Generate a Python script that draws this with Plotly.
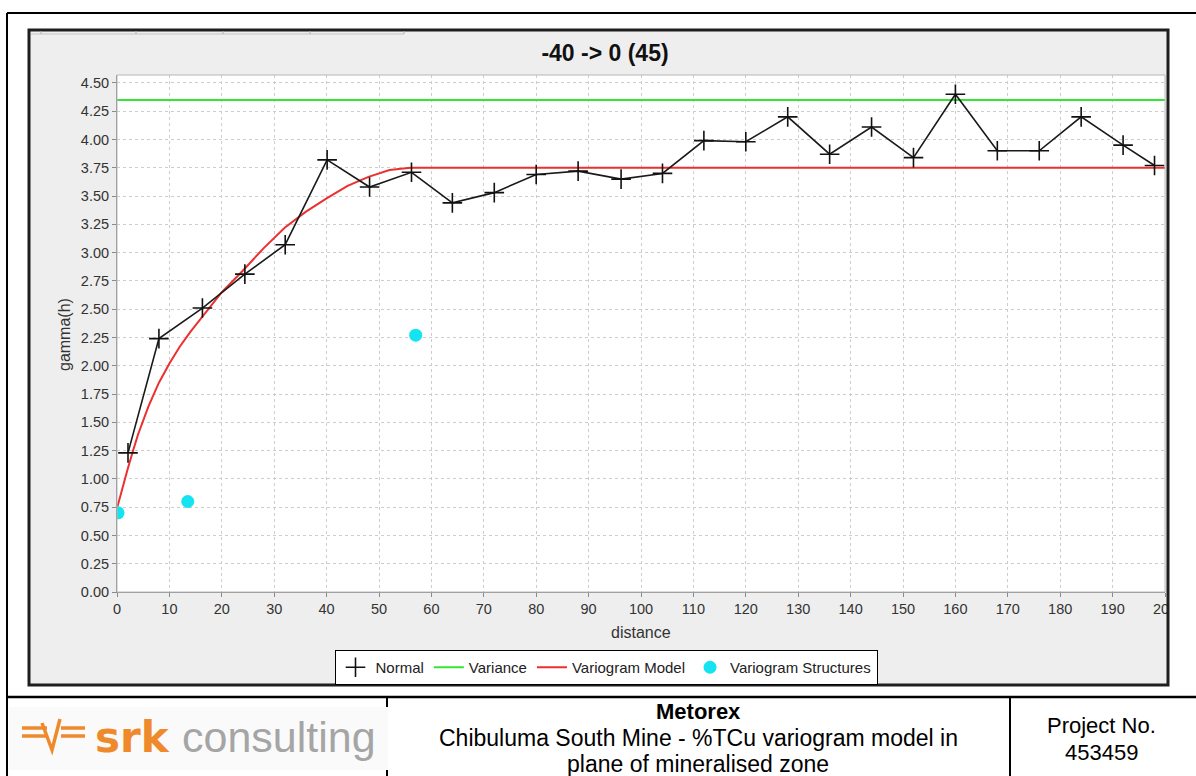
import plotly.graph_objects as go

# ---------------- data ----------------
lag_distance = [2.1, 8.0, 16.3, 24.4, 32.1, 40.1, 48.2, 56.2, 64.0, 72.0, 80.0, 88.0, 96.2,
                104.1, 112.0, 120.0, 128.0, 136.0, 144.0, 152.0, 160.0, 168.0, 176.0, 184.0,
                192.0, 198.0]
gamma_normal = [1.23, 2.24, 2.51, 2.81, 3.07, 3.82, 3.58, 3.71, 3.44, 3.53, 3.69, 3.72, 3.65,
                3.70, 3.99, 3.98, 4.20, 3.87, 4.11, 3.84, 4.40, 3.90, 3.90, 4.20, 3.95, 3.77]
variance_value = 4.35
model_distance = [0, 1, 2, 3, 4, 6, 8, 10, 12, 14, 16, 20, 24, 28, 32, 36, 40, 44, 48, 52, 56, 200]
model_gamma = [0.74, 0.92, 1.08, 1.24, 1.39, 1.64, 1.85, 2.02, 2.17, 2.30, 2.42, 2.65, 2.84,
               3.04, 3.22, 3.36, 3.48, 3.59, 3.67, 3.73, 3.75, 3.75]
structure_distance = [0.2, 13.5, 57.0]
structure_gamma = [0.70, 0.80, 2.27]

x_range = [0, 200]
y_range = [0, 4.57]

chart_title = "-40 -> 0 (45)"
x_title = "distance"
y_title = "gamma(h)"
series_names = ["Normal", "Variance", "Variogram Model", "Variogram Structures"]
footer_client = "Metorex"
footer_desc = ["Chibuluma South Mine - %TCu variogram model in", "plane of mineralised zone"]
footer_project = ["Project No.", "453459"]

# ---------------- layout geometry (pixels) ----------------
W, H = 1196, 776
L, R, T, B = 117, 1165, 75, 592


def fx(p):
    return (p - L) / (R - L)


def fy(p):
    return (B - p) / (B - T)


FONT = "Liberation Sans, Arial, sans-serif"
GREEN = "#33e633"
RED = "#ec2f2f"
CYAN = "#14e4f2"
ORANGE = "#ef8a2c"

fig = go.Figure()

# Variance
fig.add_trace(go.Scatter(
    x=x_range, y=[variance_value, variance_value], mode="lines",
    line=dict(color=GREEN, width=2), name=series_names[1], legendrank=2))
# Variogram model
fig.add_trace(go.Scatter(
    x=model_distance, y=model_gamma, mode="lines",
    line=dict(color=RED, width=2), name=series_names[2], legendrank=3))
# Experimental variogram (Normal)
fig.add_trace(go.Scatter(
    x=lag_distance, y=gamma_normal, mode="lines+markers",
    line=dict(color="#1a1a1a", width=1.6),
    marker=dict(symbol="cross-thin", size=14, line=dict(color="#111", width=1.6)),
    name=series_names[0], showlegend=False))
# legend entry for Normal (marker only, like the reference)
fig.add_trace(go.Scatter(
    x=[None], y=[None], mode="markers",
    marker=dict(symbol="cross-thin", size=14, line=dict(color="#111", width=1.6)),
    name=series_names[0], legendrank=1))
# Variogram structures
fig.add_trace(go.Scatter(
    x=structure_distance, y=structure_gamma, mode="markers",
    marker=dict(symbol="circle", size=13, color=CYAN),
    name=series_names[3], legendrank=4))

grid = dict(showgrid=True, gridcolor="#cdcdcd", gridwidth=1, griddash="dot",
            zeroline=False, showline=True, linecolor="#8a8a8a", linewidth=1,
            ticks="outside", ticklen=4, tickcolor="#8a8a8a",
            tickfont=dict(family=FONT, size=14.5, color="#333"))

fig.update_xaxes(range=x_range, tick0=0, dtick=10, **grid)
fig.update_yaxes(range=y_range, tick0=0, dtick=0.25, tickformat=".2f", **grid)

shapes = []
# grey chart panel
shapes.append(dict(type="rect", xref="paper", yref="paper", layer="below",
                   x0=fx(29), x1=fx(1168), y0=fy(30), y1=fy(685),
                   fillcolor="#eeeeee", line=dict(width=0)))
# white plot area
shapes.append(dict(type="rect", xref="paper", yref="paper", layer="below",
                   x0=0, x1=1, y0=0, y1=1, fillcolor="white", line=dict(width=0)))
# plot area outline
shapes.append(dict(type="rect", xref="paper", yref="paper", layer="above",
                   x0=0, x1=1, y0=0, y1=1, line=dict(color="#b8b8b8", width=1)))
# cover the part of the last tick label clipped by the panel
shapes.append(dict(type="rect", xref="paper", yref="paper", layer="above",
                   x0=fx(1169), x1=fx(1196), y0=fy(594), y1=fy(624),
                   fillcolor="white", line=dict(width=0)))
# panel border
shapes.append(dict(type="rect", xref="paper", yref="paper", layer="above",
                   x0=fx(29), x1=fx(1168), y0=fy(30), y1=fy(685),
                   line=dict(color="#1e1e1e", width=3)))
# tab strip at the top of the panel
shapes.append(dict(type="line", xref="paper", yref="paper", layer="above",
                   x0=fx(31), x1=fx(404), y0=fy(34), y1=fy(34),
                   line=dict(color="#c4c4c4", width=1)))
for tx in [41, 136, 223, 310, 404]:
    shapes.append(dict(type="line", xref="paper", yref="paper", layer="above",
                       x0=fx(tx), x1=fx(tx), y0=fy(31), y1=fy(34),
                       line=dict(color="#b0b0b0", width=1)))
# outer frame / table lines
blk = dict(color="black", width=2)
shapes.append(dict(type="line", xref="paper", yref="paper", layer="above",
                   x0=fx(7), x1=fx(1196), y0=fy(13), y1=fy(13), line=blk))
shapes.append(dict(type="line", xref="paper", yref="paper", layer="above",
                   x0=fx(7), x1=fx(7), y0=fy(13), y1=fy(776), line=blk))
shapes.append(dict(type="line", xref="paper", yref="paper", layer="above",
                   x0=fx(7), x1=fx(1196), y0=fy(697), y1=fy(697),
                   line=dict(color="black", width=2.5)))
shapes.append(dict(type="line", xref="paper", yref="paper", layer="above",
                   x0=fx(1010), x1=fx(1010), y0=fy(697), y1=fy(776), line=blk))
# logo background + partial divider
shapes.append(dict(type="line", xref="paper", yref="paper", layer="above",
                   x0=fx(387), x1=fx(387), y0=fy(697), y1=fy(776), line=blk))
shapes.append(dict(type="rect", xref="paper", yref="paper", layer="above",
                   x0=fx(9), x1=fx(388), y0=fy(707), y1=fy(770),
                   fillcolor="#fafafa", line=dict(width=0)))
# srk symbol
og = dict(color=ORANGE, width=3.5)
for (x0, x1, y0, y1) in [(22, 47, 728, 728), (22, 47, 736, 736),
                         (61, 85, 728, 728), (61, 85, 736, 736)]:
    shapes.append(dict(type="line", xref="paper", yref="paper", layer="above",
                       x0=fx(x0), x1=fx(x1), y0=fy(y0), y1=fy(y1), line=og))
shapes.append(dict(type="path", xref="paper", yref="paper", layer="above",
                   path="M {a},{b} L {c},{d} L {e},{f}".format(
                       a=fx(42), b=fy(723), c=fx(52), d=fy(750), e=fx(60), f=fy(719)),
                   line=og))

ann = []
ann.append(dict(text=y_title, x=fx(64), y=fy(335), xref="paper", yref="paper",
                textangle=-90, showarrow=False, xanchor="center", yanchor="middle",
                font=dict(family=FONT, size=16, color="#333")))
ann.append(dict(text=x_title, x=fx(641), y=fy(632), xref="paper", yref="paper",
                showarrow=False, xanchor="center", yanchor="middle",
                font=dict(family=FONT, size=16, color="#333")))
# footer
ann.append(dict(text="<b>" + footer_client + "</b>", x=fx(698), y=fy(711), xref="paper",
                yref="paper", showarrow=False, xanchor="center", yanchor="middle",
                font=dict(family=FONT, size=22, color="black")))
for i, line in enumerate(footer_desc):
    ann.append(dict(text=line, x=fx(698), y=fy(738 + 26 * i), xref="paper", yref="paper",
                    showarrow=False, xanchor="center", yanchor="middle",
                    font=dict(family=FONT, size=23, color="black")))
for i, line in enumerate(footer_project):
    ann.append(dict(text=line, x=fx(1101), y=fy(725 + 27 * i), xref="paper", yref="paper",
                    showarrow=False, xanchor="center", yanchor="middle",
                    font=dict(family=FONT, size=22, color="black")))
# logo text
ann.append(dict(text="<b>srk</b>", x=fx(93), y=fy(737), xref="paper", yref="paper",
                showarrow=False, xanchor="left", yanchor="middle",
                font=dict(family="DejaVu Sans, sans-serif", size=42, color=ORANGE)))
ann.append(dict(text="consulting", x=fx(180), y=fy(737), xref="paper", yref="paper",
                showarrow=False, xanchor="left", yanchor="middle",
                font=dict(family=FONT, size=43, color="#a5a5a5")))

fig.update_layout(
    width=W, height=H,
    margin=dict(l=L, r=W - R, t=T, b=H - B, autoexpand=False),
    paper_bgcolor="white", plot_bgcolor="white",
    title=dict(text="<b>" + chart_title + "</b>", x=605 / W, xref="container",
               xanchor="center", y=1 - 53 / H, yref="container", yanchor="middle",
               font=dict(family=FONT, size=23, color="#111")),
    showlegend=True,
    legend=dict(orientation="h", x=fx(606), xanchor="center", y=fy(685), yanchor="bottom",
                bgcolor="white", bordercolor="black", borderwidth=1,
                font=dict(family=FONT, size=15, color="#222"), itemwidth=30,
                traceorder="normal"),
    shapes=shapes, annotations=ann,
)

fig.write_html("out.html", config={"displayModeBar": False},
               post_script="document.body.style.margin='0px';"
                           "document.body.style.overflow='hidden';")
